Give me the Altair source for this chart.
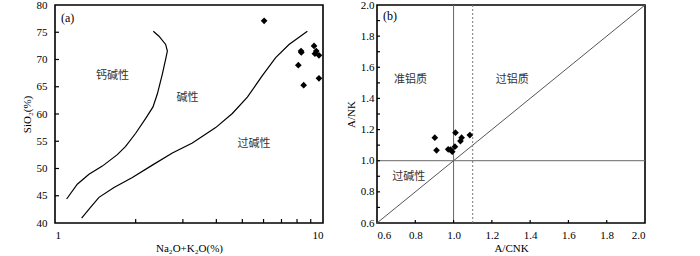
import altair as alt
import pandas as pd

# ---------- panel (a) data ----------
a_x = [6.03, 8.28, 8.30, 8.09, 8.47, 9.26, 9.33, 9.44, 9.66, 9.66]
a_y = [77.1, 71.55, 71.3, 68.96, 65.28, 72.5, 71.07, 71.55, 70.77, 66.55]

c1_x = [1.105, 1.211, 1.339, 1.502, 1.708, 1.835, 2.0, 2.18, 2.321, 2.41, 2.515, 2.588, 2.626, 2.588, 2.443, 2.327]
c1_y = [44.4, 47.12, 48.93, 50.44, 52.55, 54.06, 56.47, 59.19, 61.30, 63.71, 67.33, 70.05, 71.55, 72.76, 74.27, 75.17]

c2_x = [1.257, 1.359, 1.459, 1.660, 1.944, 2.308, 2.741, 3.254, 3.977, 4.588, 5.222, 5.937, 6.659, 7.467, 8.743]
c2_y = [40.9, 42.9, 44.71, 46.52, 48.33, 50.62, 52.85, 54.66, 57.5, 60.09, 63.11, 67.03, 70.35, 72.76, 75.17]

a_lab_text = ["钙碱性", "碱性", "过碱性"]
a_lab_x = [1.64, 3.12, 5.53]
a_lab_y = [67.0, 62.9, 54.5]

a_xticks = [2, 3, 4, 5, 6, 7, 8, 9]
a_yticks = [45, 50, 55, 60, 65, 70, 75]
a_xlabels = [1, 10]
a_ylabels = [40, 45, 50, 55, 60, 65, 70, 75, 80]

# ---------- panel (b) data ----------
b_x = [0.902, 0.911, 0.972, 0.984, 0.993, 1.007, 1.010, 1.036, 1.042, 1.085]
b_y = [1.148, 1.067, 1.073, 1.071, 1.058, 1.090, 1.180, 1.126, 1.148, 1.165]

diag_x = [0.6, 2.0]
diag_y = [0.6, 2.0]

b_lab_text = ["准铝质", "过铝质", "过碱性"]
b_lab_x = [0.775, 1.307, 0.766]
b_lab_y = [1.52, 1.52, 0.898]

b_xticks = [0.8, 1.0, 1.2, 1.4, 1.6, 1.8]
b_yticks = [0.7, 0.8, 0.9, 1.0, 1.1, 1.2, 1.3, 1.4, 1.5, 1.6, 1.7, 1.8, 1.9]
b_labels = [0.6, 0.8, 1.0, 1.2, 1.4, 1.6, 1.8, 2.0]

W, H = 268, 218
SERIF = "Liberation Serif"
CJK = "Noto Sans CJK SC"

# ---------- panel (a) ----------
xs_a = alt.Scale(type="log", domain=[1, 10])
ys_a = alt.Scale(domain=[40, 80])

pts_a = pd.DataFrame({"x": a_x, "y": a_y})
c1 = pd.DataFrame({"x": c1_x, "y": c1_y, "o": list(range(len(c1_x)))})
c2 = pd.DataFrame({"x": c2_x, "y": c2_y, "o": list(range(len(c2_x)))})
lab_a = pd.DataFrame({"x": a_lab_x, "y": a_lab_y, "t": a_lab_text})

xax_a = alt.Axis(values=a_xlabels, format="d", ticks=False, tickSize=0, grid=False, domain=False,
                 labelOverlap=False, title="Na₂O+K₂O(%)", labelPadding=6, titlePadding=2)
yax_a = alt.Axis(values=a_ylabels, format="d", ticks=False, tickSize=0, grid=False, domain=False,
                 labelOverlap=False, title="SiO₂(%)", labelPadding=8, titlePadding=4)

line1 = alt.Chart(c1).mark_line(color="black", strokeWidth=1.2).encode(
    x=alt.X("x:Q", scale=xs_a, axis=xax_a), y=alt.Y("y:Q", scale=ys_a, axis=yax_a), order="o:Q")
line2 = alt.Chart(c2).mark_line(color="black", strokeWidth=1.2).encode(
    x=alt.X("x:Q", scale=xs_a, axis=xax_a), y=alt.Y("y:Q", scale=ys_a, axis=yax_a), order="o:Q")
base_pts_a = alt.Chart(pts_a).mark_point(shape="diamond", filled=True, color="black", size=45, opacity=1).encode(
    x=alt.X("x:Q", scale=xs_a, axis=xax_a),
    y=alt.Y("y:Q", scale=ys_a, axis=yax_a),
)
text_a = alt.Chart(lab_a).mark_text(font=CJK, fontSize=11, color="#333").encode(
    x=alt.X("x:Q", scale=xs_a, axis=xax_a), y=alt.Y("y:Q", scale=ys_a, axis=yax_a), text="t:N")
tag_a = alt.Chart(pd.DataFrame({"t": ["(a)"]})).mark_text(font=SERIF, fontSize=12, align="left", color="black").encode(
    x=alt.value(6), y=alt.value(13), text="t:N")
xt_a = alt.Chart(pd.DataFrame({"x": a_xticks})).mark_rule(color="black", strokeWidth=1.2).encode(
    x=alt.X("x:Q", scale=xs_a, axis=xax_a), y=alt.value(H), y2=alt.value(H - 4))
yt_a = alt.Chart(pd.DataFrame({"y": a_yticks})).mark_rule(color="black", strokeWidth=1.2).encode(
    y=alt.Y("y:Q", scale=ys_a, axis=yax_a), x=alt.value(0), x2=alt.value(4))

panel_a = alt.layer(line1, line2, xt_a, yt_a, text_a, tag_a, base_pts_a).properties(width=W, height=H)

# ---------- panel (b) ----------
xs_b = alt.Scale(domain=[0.6, 2.0], nice=False, zero=False)
ys_b = alt.Scale(domain=[0.6, 2.0], nice=False, zero=False)

pts_b = pd.DataFrame({"x": b_x, "y": b_y})
lab_b = pd.DataFrame({"x": b_lab_x, "y": b_lab_y, "t": b_lab_text})
diag = pd.DataFrame({"x": diag_x, "y": diag_y})

xax_b = alt.Axis(values=b_labels, format=".1f", ticks=False, tickSize=0, grid=False, domain=False,
                 labelOverlap=False, title="A/CNK", labelPadding=6, titlePadding=2)
yax_b = alt.Axis(values=b_labels, format=".1f", ticks=False, tickSize=0, grid=False, domain=False,
                 labelOverlap=False, title="A/NK", labelPadding=3, titlePadding=4)

diag_ch = alt.Chart(diag).mark_line(color="#555", strokeWidth=1).encode(
    x=alt.X("x:Q", scale=xs_b, axis=xax_b), y=alt.Y("y:Q", scale=ys_b, axis=yax_b))
pts_b_ch = alt.Chart(pts_b).mark_point(shape="diamond", filled=True, color="black", size=45, opacity=1).encode(
    x=alt.X("x:Q", scale=xs_b, axis=xax_b),
    y=alt.Y("y:Q", scale=ys_b, axis=yax_b),
)
vline = alt.Chart(pd.DataFrame({"x": [1.0]})).mark_rule(color="#666", strokeWidth=1).encode(
    x=alt.X("x:Q", scale=xs_b, axis=xax_b))
vdot = alt.Chart(pd.DataFrame({"x": [1.1]})).mark_rule(color="#777", strokeWidth=1, strokeDash=[2, 2]).encode(
    x=alt.X("x:Q", scale=xs_b, axis=xax_b))
hline = alt.Chart(pd.DataFrame({"y": [1.0]})).mark_rule(color="#666", strokeWidth=1).encode(
    y=alt.Y("y:Q", scale=ys_b, axis=yax_b))
text_b = alt.Chart(lab_b).mark_text(font=CJK, fontSize=11, color="#333").encode(
    x=alt.X("x:Q", scale=xs_b, axis=xax_b), y=alt.Y("y:Q", scale=ys_b, axis=yax_b), text="t:N")
tag_b = alt.Chart(pd.DataFrame({"t": ["(b)"]})).mark_text(font=SERIF, fontSize=12, align="left", color="black").encode(
    x=alt.value(6), y=alt.value(11), text="t:N")
xt_b = alt.Chart(pd.DataFrame({"x": b_xticks})).mark_rule(color="black", strokeWidth=1.2).encode(
    x=alt.X("x:Q", scale=xs_b, axis=xax_b), y=alt.value(H), y2=alt.value(H - 3))
yt_b = alt.Chart(pd.DataFrame({"y": b_yticks})).mark_rule(color="black", strokeWidth=1.2).encode(
    y=alt.Y("y:Q", scale=ys_b, axis=yax_b), x=alt.value(0), x2=alt.value(3))

panel_b = alt.layer(diag_ch, vline, vdot, hline, xt_b, yt_b, text_b, tag_b, pts_b_ch).properties(width=W, height=H)

chart = alt.hconcat(panel_a, panel_b, spacing=54, bounds="flush").properties(
    padding={"left": 20, "top": -2, "right": 5, "bottom": 0},
    background="white",
).configure_view(
    stroke="black", strokeWidth=1.6
).configure_axis(
    labelFont=SERIF, labelFontSize=11, labelColor="black", labelOverlap=False,
    titleFont=SERIF, titleFontSize=11, titleFontWeight="normal", titleColor="black",
)

chart.save("out.html", embed_options={"renderer": "svg", "actions": False})
